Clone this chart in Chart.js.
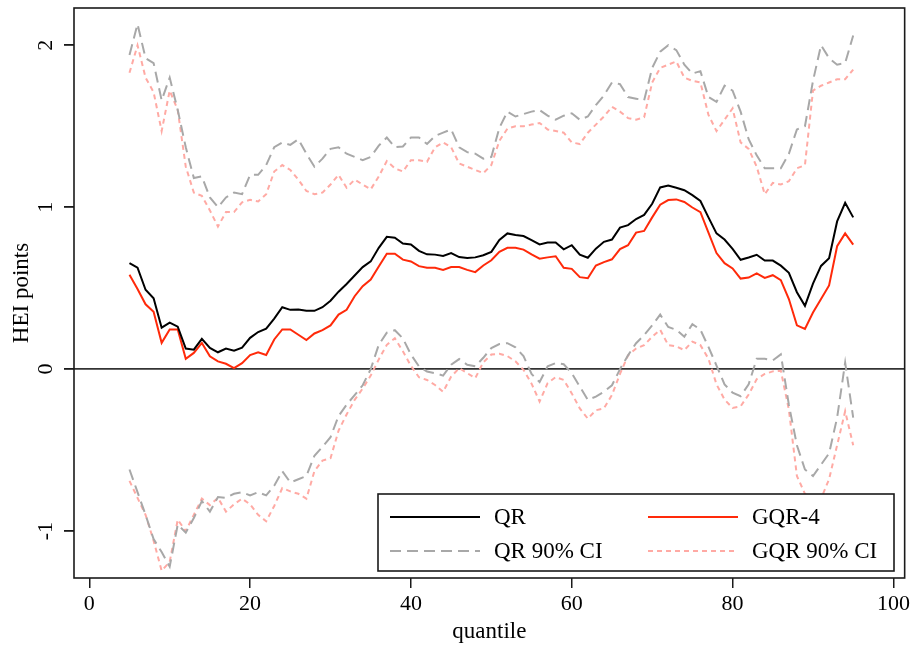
<!DOCTYPE html>
<html>
<head>
<meta charset="utf-8">
<script src="https://cdn.jsdelivr.net/npm/chart.js@4.4.1/dist/chart.umd.min.js"></script>
<style>
  body { margin: 0; background: #fff; }
  #wrap { width: 913px; height: 650px; }
</style>
</head>
<body>
<div id="wrap"><canvas id="qrChart"></canvas></div>
<script>
// quantile grid (5..95)
const quantiles = [5,6,7,8,9,10,11,12,13,14,15,16,17,18,19,20,21,22,23,24,25,26,27,28,29,30,
  31,32,33,34,35,36,37,38,39,40,41,42,43,44,45,46,47,48,49,50,51,52,53,54,55,56,57,58,59,60,
  61,62,63,64,65,66,67,68,69,70,71,72,73,74,75,76,77,78,79,80,81,82,83,84,85,86,87,88,89,90,
  91,92,93,94,95];

// QR point estimates
const qr = [0.655,0.626,0.49,0.437,0.256,0.287,0.262,0.127,0.12,0.187,0.131,0.104,0.127,0.114,0.133,0.193,
  0.229,0.25,0.312,0.382,0.366,0.368,0.36,0.36,0.382,0.422,0.478,0.526,0.578,0.63,0.665,0.749,0.817,0.811,
  0.776,0.77,0.73,0.709,0.707,0.699,0.717,0.692,0.686,0.69,0.703,0.724,0.797,0.838,0.828,0.822,0.797,0.77,
  0.782,0.782,0.74,0.765,0.707,0.688,0.744,0.786,0.80,0.874,0.889,0.927,0.952,1.021,1.122,1.133,1.12,1.105,
  1.074,1.038,0.937,0.838,0.80,0.742,0.675,0.689,0.706,0.67,0.67,0.639,0.595,0.475,0.391,0.528,0.637,0.685,
  0.912,1.027,0.937];

// GQR-4 point estimates
const gqr = [0.582,0.495,0.40,0.354,0.162,0.245,0.245,0.064,0.10,0.162,0.079,0.048,0.033,0.006,0.037,0.087,
  0.104,0.087,0.183,0.245,0.245,0.212,0.179,0.22,0.241,0.27,0.337,0.366,0.45,0.512,0.553,0.634,0.713,0.713,
  0.676,0.665,0.636,0.626,0.626,0.613,0.63,0.63,0.613,0.599,0.64,0.672,0.724,0.749,0.749,0.738,0.709,0.682,
  0.69,0.697,0.626,0.619,0.568,0.561,0.64,0.661,0.678,0.741,0.765,0.843,0.853,0.937,1.015,1.044,1.048,1.032,
  0.998,0.969,0.843,0.717,0.654,0.622,0.559,0.565,0.591,0.563,0.58,0.549,0.433,0.27,0.248,0.349,0.433,0.517,
  0.759,0.838,0.769];

// QR 90% CI bounds
const qrHi = [1.94,2.13,1.92,1.89,1.66,1.80,1.60,1.37,1.18,1.19,1.06,1.00,1.06,1.09,1.08,1.20,
  1.20,1.26,1.37,1.40,1.385,1.42,1.33,1.25,1.30,1.36,1.37,1.33,1.31,1.29,1.31,1.38,1.43,1.37,
  1.375,1.43,1.43,1.39,1.44,1.46,1.48,1.37,1.34,1.33,1.30,1.31,1.49,1.59,1.56,1.575,1.59,1.60,
  1.565,1.54,1.565,1.58,1.54,1.56,1.63,1.69,1.77,1.76,1.68,1.67,1.66,1.86,1.96,2.0,1.97,1.88,
  1.825,1.84,1.68,1.65,1.75,1.72,1.59,1.42,1.32,1.24,1.24,1.24,1.33,1.48,1.50,1.78,2.0,1.92,
  1.88,1.89,2.06];
const qrLo = [-0.62,-0.76,-0.90,-1.05,-1.13,-1.22,-0.96,-1.01,-0.92,-0.815,-0.88,-0.79,-0.795,-0.77,-0.76,-0.78,
  -0.76,-0.78,-0.72,-0.63,-0.70,-0.68,-0.66,-0.535,-0.48,-0.42,-0.29,-0.22,-0.16,-0.10,0.0,0.15,0.225,0.24,
  0.19,0.09,0.017,-0.015,-0.025,-0.04,0.027,0.062,0.027,0.017,0.07,0.13,0.155,0.16,0.135,0.08,-0.03,-0.08,
  0.017,0.037,0.03,-0.025,-0.108,-0.19,-0.17,-0.14,-0.10,0.0,0.085,0.16,0.21,0.27,0.337,0.26,0.243,0.20,
  0.278,0.243,0.137,0.022,-0.094,-0.146,-0.167,-0.094,0.064,0.064,0.054,0.091,-0.22,-0.47,-0.62,-0.66,-0.59,-0.52,
  -0.30,0.04,-0.30];

// GQR 90% CI bounds
const gqrHi = [1.83,2.0,1.80,1.71,1.47,1.72,1.60,1.25,1.09,1.07,0.98,0.88,0.97,0.97,1.03,1.045,
  1.035,1.08,1.22,1.26,1.23,1.17,1.10,1.08,1.09,1.14,1.20,1.12,1.17,1.14,1.11,1.19,1.285,1.24,
  1.22,1.29,1.29,1.28,1.37,1.40,1.37,1.27,1.25,1.23,1.21,1.26,1.41,1.485,1.50,1.50,1.51,1.52,
  1.48,1.47,1.46,1.40,1.39,1.46,1.51,1.56,1.62,1.59,1.55,1.54,1.555,1.77,1.86,1.88,1.90,1.80,
  1.78,1.77,1.57,1.47,1.54,1.61,1.40,1.36,1.25,1.08,1.15,1.14,1.16,1.24,1.26,1.72,1.75,1.77,
  1.79,1.79,1.85];
const gqrLo = [-0.69,-0.795,-0.90,-1.06,-1.245,-1.19,-0.93,-1.0,-0.90,-0.80,-0.84,-0.795,-0.88,-0.835,-0.80,-0.835,
  -0.90,-0.94,-0.845,-0.735,-0.755,-0.77,-0.80,-0.63,-0.565,-0.55,-0.38,-0.28,-0.19,-0.12,-0.04,0.06,0.15,0.19,
  0.11,0.02,-0.05,-0.067,-0.098,-0.14,-0.046,0.006,-0.025,-0.056,0.042,0.09,0.095,0.08,0.048,-0.004,-0.09,-0.20,
  -0.087,-0.05,-0.067,-0.15,-0.243,-0.306,-0.254,-0.243,-0.16,-0.03,0.085,0.127,0.148,0.20,0.243,0.148,0.14,0.117,
  0.17,0.148,0.064,-0.094,-0.188,-0.24,-0.23,-0.157,-0.062,-0.03,-0.014,-0.01,-0.25,-0.66,-0.77,-0.81,-0.80,-0.68,
  -0.47,-0.26,-0.47];

const xTicks = [0, 20, 40, 60, 80, 100];
const yTicks = [-1, 0, 1, 2];

const serif = "'Liberation Serif', 'DejaVu Serif', serif";

function pts(vals) {
  return quantiles.map((q, i) => ({ x: q, y: vals[i] }));
}

function line(label, vals, color, dash, width, inLegend) {
  return {
    label: label,
    data: pts(vals),
    borderColor: color,
    backgroundColor: color,
    borderWidth: width,
    borderDash: dash,
    pointRadius: 0,
    tension: 0,
    fill: false,
    inLegend: inLegend
  };
}

// frame, y labels and the legend box
const stataBits = {
  id: 'stataBits',
  afterDraw(chart) {
    const ctx = chart.ctx;
    const a = chart.chartArea;
    const ys = chart.scales.y;

    ctx.save();
    ctx.strokeStyle = '#1a1a1a';
    ctx.lineWidth = 1.6;
    ctx.strokeRect(a.left, a.top, a.right - a.left, a.bottom - a.top);

    // rotated y tick labels
    ctx.fillStyle = '#000';
    ctx.font = '22px ' + serif;
    ctx.textAlign = 'center';
    ctx.textBaseline = 'middle';
    yTicks.forEach(v => {
      ctx.save();
      ctx.translate(46, ys.getPixelForValue(v));
      ctx.rotate(-Math.PI / 2);
      ctx.fillText(String(v), 0, 0);
      ctx.restore();
    });

    // legend
    const box = { l: 378, t: 494, r: 894, b: 571 };
    ctx.fillStyle = '#fff';
    ctx.fillRect(box.l, box.t, box.r - box.l, box.b - box.t);
    ctx.strokeStyle = '#1a1a1a';
    ctx.lineWidth = 1.6;
    ctx.strokeRect(box.l, box.t, box.r - box.l, box.b - box.t);

    const items = chart.data.datasets.filter(d => d.inLegend);
    const cols = [390, 648];
    const rows = [517, 551];
    ctx.font = '23px ' + serif;
    ctx.textAlign = 'left';
    items.forEach((d, i) => {
      const x = cols[i % 2], y = rows[Math.floor(i / 2)];
      ctx.beginPath();
      ctx.strokeStyle = d.borderColor;
      ctx.lineWidth = d.borderWidth;
      ctx.setLineDash(d.borderDash || []);
      ctx.moveTo(x, y);
      ctx.lineTo(x + 90, y);
      ctx.stroke();
      ctx.setLineDash([]);
      ctx.fillStyle = '#000';
      ctx.fillText(d.label, x + 104, y + 1);
    });
    ctx.restore();
  }
};

new Chart(document.getElementById('qrChart'), {
  type: 'line',
  data: {
    datasets: [
      line('QR', qr, '#000000', [], 2, true),
      line('GQR-4', gqr, '#ff2a0a', [], 2, true),
      line('QR 90% CI', qrHi, '#a8a8a8', [11, 6], 2, true),
      line('GQR 90% CI', gqrHi, '#ffaaa4', [5, 4], 2, true),
      line('QR 90% CI', qrLo, '#a8a8a8', [11, 6], 2, false),
      line('GQR 90% CI', gqrLo, '#ffaaa4', [5, 4], 2, false)
    ]
  },
  options: {
    responsive: true,
    maintainAspectRatio: false,
    animation: false,
    layout: { padding: { top: 8, right: 7, left: 0, bottom: 0 } },
    plugins: {
      legend: { display: false },
      tooltip: { enabled: false }
    },
    scales: {
      x: {
        type: 'linear',
        min: -1.9,
        max: 101.4,
        afterBuildTicks: s => { s.ticks = xTicks.map(v => ({ value: v })); },
        afterFit: s => { s.height = 72; },
        border: { display: false },
        grid: { drawOnChartArea: false, drawTicks: true, tickLength: 10, tickColor: '#1a1a1a', lineWidth: 1.5 },
        ticks: { color: '#000', font: { family: serif, size: 22 }, padding: 3, maxRotation: 0 },
        title: { display: true, text: 'quantile', color: '#000', font: { family: serif, size: 23 }, padding: { top: 0, bottom: 4 } }
      },
      y: {
        min: -1.29,
        max: 2.23,
        afterBuildTicks: s => { s.ticks = yTicks.map(v => ({ value: v })); },
        afterFit: s => { s.width = 74; },
        border: { display: false },
        grid: {
          drawOnChartArea: true,
          drawTicks: true,
          tickLength: 10,
          tickColor: '#1a1a1a',
          lineWidth: 1.8,
          color: c => (c.tick && c.tick.value === 0) ? '#333333' : 'rgba(0,0,0,0)'
        },
        ticks: { display: false },
        title: { display: true, text: 'HEI points', color: '#000', font: { family: serif, size: 23 }, padding: { top: 8, bottom: 0 } }
      }
    }
  },
  plugins: [stataBits]
});
</script>
</body>
</html>
